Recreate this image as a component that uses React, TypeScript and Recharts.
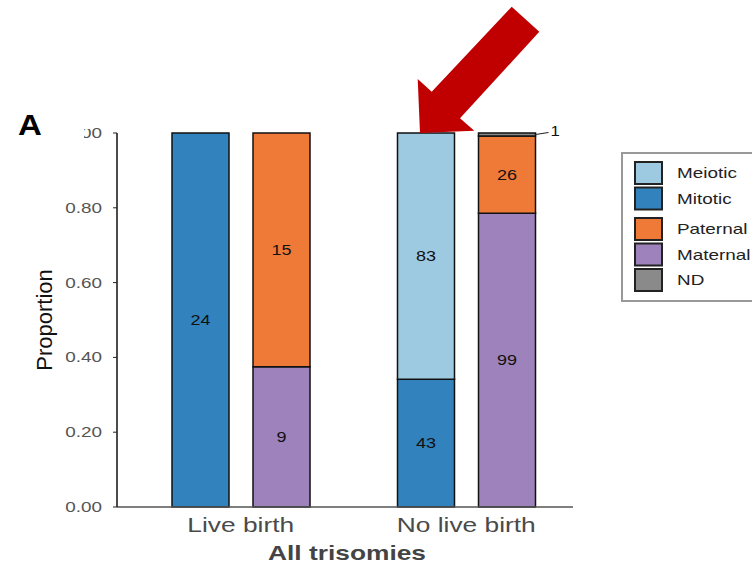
import React from 'react';
import { BarChart, Bar, XAxis, YAxis, LabelList } from 'recharts';

// ---- data ----
const categories = ['Live birth', 'No live birth'];
const meioticCounts = [0, 83];
const mitoticCounts = [24, 43];
const paternalCounts = [15, 26];
const maternalCounts = [9, 99];
const ndCounts = [0, 1];
const yTicks = [0, 0.2, 0.4, 0.6, 0.8, 1.0];
const legendNames = ['Meiotic', 'Mitotic', 'Paternal', 'Maternal', 'ND'];

const colors: Record<string, string> = {
  Meiotic: '#9ECAE1',
  Mitotic: '#3182BD',
  Paternal: '#EF7A38',
  Maternal: '#9E82BB',
  ND: '#8A8A8A',
};

const data = categories.map((category, i) => {
  const originTotal = meioticCounts[i] + mitoticCounts[i];
  const parentTotal = paternalCounts[i] + maternalCounts[i] + ndCounts[i];
  return {
    category,
    Mitotic: mitoticCounts[i] / originTotal,
    Meiotic: meioticCounts[i] / originTotal,
    Maternal: maternalCounts[i] / parentTotal,
    Paternal: paternalCounts[i] / parentTotal,
    ND: ndCounts[i] / parentTotal,
    nMitotic: mitoticCounts[i],
    nMeiotic: meioticCounts[i],
    nMaternal: maternalCounts[i],
    nPaternal: paternalCounts[i],
    nND: ndCounts[i],
  };
});

const FONT = '"Liberation Sans", Arial, Helvetica, sans-serif';
const SX = 1.35;

const makeLabel = (key: string) => (props: any) => {
  const x = Number(props.x);
  const y = Number(props.y);
  const width = Number(props.width);
  const height = Number(props.height);
  const c = Number(props.value);
  if (!c) return null;
  if (key === 'ND') {
    const x0 = x + width;
    const y0 = y + height / 2;
    return (
      <g>
        <line x1={x0} y1={y0} x2={x0 + 13} y2={y0 - 2} stroke="#222" strokeWidth={1.2} />
        <text
          transform={`translate(${x0 + 15},${y0 + 2}) scale(1.2,1)`}
          fontSize={14}
          fill="#111"
          fontFamily={FONT}
        >
          {c}
        </text>
      </g>
    );
  }
  const cx = x + width / 2;
  const cy = y + height / 2;
  return (
    <text
      transform={`translate(${cx},${cy + 5}) scale(1.2,1)`}
      textAnchor="middle"
      fontSize={15}
      fill="#111"
      fontFamily={FONT}
    >
      {c}
    </text>
  );
};

const XTick = (props: any) => {
  const { x, payload } = props;
  return (
    <text
      transform={`translate(${x},532) scale(${SX},1)`}
      textAnchor="middle"
      fontSize={19.5}
      fill="#4a4a4a"
      fontFamily={FONT}
    >
      {payload.value}
    </text>
  );
};

const YTick = (props: any) => {
  const { x, y, payload } = props;
  return (
    <text
      transform={`translate(${x},${Number(y) + 5}) scale(${SX},1)`}
      textAnchor="end"
      fontSize={14}
      fill="#555"
      fontFamily={FONT}
    >
      {Number(payload.value).toFixed(2)}
    </text>
  );
};

const YLabel = (props: any) => {
  const vb = props.viewBox;
  const cy = vb && vb.height ? vb.y + vb.height / 2 : 320;
  return (
    <text
      transform={`translate(52,${cy}) rotate(-90)`}
      textAnchor="middle"
      fontSize={22}
      fill="#111"
      fontFamily={FONT}
    >
      Proportion
    </text>
  );
};

const XLabel = (props: any) => {
  const vb = props.viewBox;
  const cx = vb && vb.width ? vb.x + vb.width / 2 : 345;
  return (
    <text
      transform={`translate(${cx + 2},560) scale(${SX},1)`}
      textAnchor="middle"
      fontSize={19.5}
      fontWeight="bold"
      fill="#444"
      fontFamily={FONT}
    >
      All trisomies
    </text>
  );
};

const Overlay = () => {
  const legendY = (i: number) => 162 + i * 25.5 + (i >= 2 ? 5 : 0);
  return (
    <svg
      width={752}
      height={563}
      style={{ position: 'absolute', left: 0, top: 0, pointerEvents: 'none' }}
    >
      {/* crop mask over top tick label */}
      <rect x={55} y={110} width={37} height={19} fill="#fff" />
      <rect x={55} y={110} width={29} height={30} fill="#fff" />
      <rect x={92} y={110} width={12} height={17} fill="#fff" />
      <text
        transform="translate(18,135) scale(1.1,1)"
        fontSize={30}
        fontWeight="bold"
        fill="#000"
        fontFamily={FONT}
      >
        A
      </text>
      {/* arrow */}
      <polygon
        points="420,133 417.7,79 431.7,91.7 511.7,6.7 539.3,31.7 460,118.3 474.3,130.7"
        fill="#C00000"
      />
      {/* legend */}
      <rect x={622} y={153} width={140} height={148} fill="#fff" stroke="#999" strokeWidth={2} />
      {legendNames.map((name, i) => (
        <g key={name}>
          <rect
            x={635}
            y={legendY(i)}
            width={27}
            height={22}
            fill={colors[name]}
            stroke="#222"
            strokeWidth={2}
          />
          <text
            transform={`translate(677,${legendY(i) + 16}) scale(${SX},1)`}
            fontSize={14}
            fill="#222"
            fontFamily={FONT}
          >
            {name}
          </text>
        </g>
      ))}
    </svg>
  );
};

export default function App() {
  return (
    <div
      style={{
        position: 'fixed',
        left: 0,
        top: 0,
        width: 752,
        height: 563,
        background: '#fff',
      }}
    >
      <BarChart
        width={752}
        height={563}
        data={data}
        margin={{ top: 133, right: 179, bottom: 0, left: 0 }}
        barSize={57}
        barGap={24}
      >
        <XAxis
          dataKey="category"
          height={56}
          padding={{ left: 11, right: -6 }}
          tickLine={false}
          axisLine={{ stroke: '#555', strokeWidth: 1.5 }}
          tick={<XTick />}
          interval={0}
          label={<XLabel />}
        />
        <YAxis
          width={117}
          domain={[0, 1]}
          ticks={yTicks}
          tickSize={4}
          tickMargin={11}
          tickLine={{ stroke: '#222' }}
          axisLine={{ stroke: '#111', strokeWidth: 1.5 }}
          tick={<YTick />}
          label={<YLabel />}
        />
        <Bar dataKey="Mitotic" stackId="origin" fill={colors.Mitotic} stroke="#111" strokeWidth={1.5} isAnimationActive={false}>
          <LabelList dataKey="nMitotic" content={makeLabel('Mitotic')} />
        </Bar>
        <Bar dataKey="Meiotic" stackId="origin" fill={colors.Meiotic} stroke="#111" strokeWidth={1.5} isAnimationActive={false}>
          <LabelList dataKey="nMeiotic" content={makeLabel('Meiotic')} />
        </Bar>
        <Bar dataKey="Maternal" stackId="parent" fill={colors.Maternal} stroke="#111" strokeWidth={1.5} isAnimationActive={false}>
          <LabelList dataKey="nMaternal" content={makeLabel('Maternal')} />
        </Bar>
        <Bar dataKey="Paternal" stackId="parent" fill={colors.Paternal} stroke="#111" strokeWidth={1.5} isAnimationActive={false}>
          <LabelList dataKey="nPaternal" content={makeLabel('Paternal')} />
        </Bar>
        <Bar dataKey="ND" stackId="parent" fill={colors.ND} stroke="#111" strokeWidth={1.5} isAnimationActive={false}>
          <LabelList dataKey="nND" content={makeLabel('ND')} />
        </Bar>
      </BarChart>
      <Overlay />
    </div>
  );
}
